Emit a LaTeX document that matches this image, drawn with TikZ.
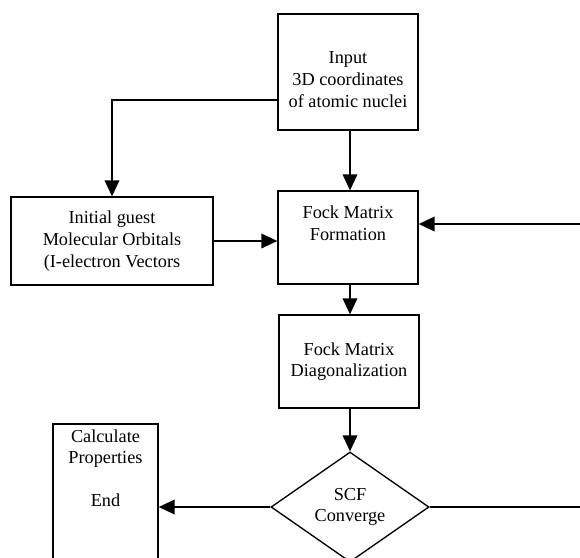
\documentclass[tikz,border=0pt]{standalone}
\usepackage{fontspec}
\setmainfont{Liberation Serif}
\usetikzlibrary{arrows.meta,shapes.geometric}
\newcommand\boxtxt[4]{\parbox[c][#1][#2]{#3}{\centering #4}}
\begin{document}
\begin{tikzpicture}[x=0.75pt,y=-0.75pt,
  every node/.style={font=\fontsize{13.7pt}{16.2pt}\selectfont},
  flowbox/.style={draw, line width=1pt, rectangle, inner sep=0pt},
  decision/.style={draw, line width=1pt, diamond, inner sep=0pt,
    minimum width=118.5pt, minimum height=82.5pt, align=center},
  arr/.style={line width=1.1pt, -{Triangle[length=12pt,width=11pt]}},
  plain/.style={line width=1.1pt}]
\useasboundingbox (0,0) rectangle (580,557);
\clip (0,0) rectangle (580,557);
\fill[white] (0,0) rectangle (580,557);

\node[flowbox] (input) at (348,72)
  {\boxtxt{87pt}{t}{105pt}{\vspace*{28.5pt}Input\\3D coordinates\\of atomic nuclei}};
\node[flowbox] (formation) at (348,237.5)
  {\boxtxt{69.75pt}{t}{105pt}{\vspace*{11.25pt}Fock Matrix\\Formation}};
\node[flowbox] (guess) at (112,241)
  {\boxtxt{66pt}{c}{151.5pt}{Initial guest\\Molecular Orbitals\\(I-electron Vectors}};
\node[flowbox] (diag) at (349,361.5)
  {\boxtxt{69.75pt}{c}{105pt}{Fock Matrix\\Diagonalization}};
\node[decision] (dia) at (350,507) {SCF\\Converge};
\node[flowbox] (calc) at (105.5,512)
  {\boxtxt{132pt}{t}{78.75pt}{\vspace*{4pt}Calculate\\Properties\\[\baselineskip]End}};

\coordinate (r1) at (580,507);
\coordinate (r2) at (580,224);

\draw[arr] (input.south -| dia.north) -- (formation.north -| dia.north);
\draw[arr] ([yshift=-21pt]input.west) -| (guess.north);
\draw[arr] (guess.east) -- (guess.east -| formation.west);
\draw[arr] (formation.south -| dia.north) -- (diag.north -| dia.north);
\draw[arr] (diag.south -| dia.north) -- (dia.north);
\draw[arr] (dia.west) -- (dia.west -| calc.east);
\draw[plain] (dia.east) -- (r1);
\draw[arr] (r2) -- (r2 -| formation.east);
\end{tikzpicture}
\end{document}
